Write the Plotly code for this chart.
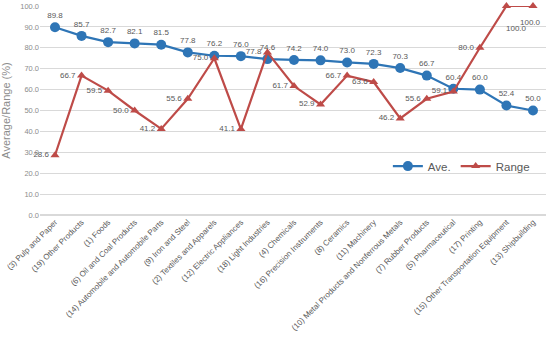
import plotly.graph_objects as go

categories = [
    "(3) Pulp and Paper", "(19) Other Products", "(1) Foods", "(6) Oil and Coal Products",
    "(14) Automobile and Automobile Parts", "(9) Iron and Steel", "(2) Textiles and Apparels",
    "(12) Electric Appliances", "(18) Light Industries", "(4) Chemicals",
    "(16) Precision Instruments", "(8) Ceramics", "(11) Machinery",
    "(10) Metal Products and Nonferrous Metals", "(7) Rubber Products", "(5) Pharmaceutical",
    "(17) Printing", "(15) Other Transportation Equipment", "(13) Shipbuilding",
]
ave = [89.8, 85.7, 82.7, 82.1, 81.5, 77.8, 76.2, 76.0, 74.6, 74.2, 74.0, 73.0, 72.3, 70.3,
       66.7, 60.4, 60.0, 52.4, 50.0]
rng = [28.6, 66.7, 59.5, 50.0, 41.2, 55.6, 75.0, 41.1, 77.8, 61.7, 52.9, 66.7, 63.6, 46.2,
       55.6, 59.1, 80.0, 100.0, 100.0]
y_ticks = [0, 10, 20, 30, 40, 50, 60, 70, 80, 90, 100]

BLUE = "#2E75B6"
RED = "#BE4B48"
GRAY = "#595959"
FONT = "Arial, Liberation Sans"

n = len(categories)
# last two Range labels are drawn as annotations below their markers
rng_text = [f"{v:.1f}" for v in rng[:-2]] + ["", ""]

fig = go.Figure()
fig.add_trace(go.Scatter(
    x=categories, y=ave, name="Ave.", mode="lines+markers+text",
    line=dict(color=BLUE, width=2.2),
    marker=dict(symbol="circle", size=10, color=BLUE),
    text=[f"{v:.1f}" for v in ave], textposition="top center",
    textfont=dict(size=8, color=GRAY, family=FONT),
    cliponaxis=False,
))
fig.add_trace(go.Scatter(
    x=categories, y=rng, name="Range", mode="lines+markers+text",
    line=dict(color=RED, width=2.2),
    marker=dict(symbol="triangle-up", size=8, color=RED),
    text=rng_text, textposition="middle left",
    textfont=dict(size=8, color=GRAY, family=FONT),
    cliponaxis=False,
))

for idx, (dx, dy) in zip([n - 2, n - 1], [(10, -22), (-2, -16)]):
    fig.add_annotation(
        x=categories[idx], y=rng[idx], text=f"{rng[idx]:.1f}", showarrow=False,
        xshift=dx, yshift=dy, font=dict(size=8, color=GRAY, family=FONT),
    )

fig.update_layout(
    width=550, height=343,
    margin=dict(l=40, r=4, t=6, b=128, autoexpand=False),
    paper_bgcolor="white", plot_bgcolor="white",
    font=dict(family=FONT, color=GRAY, size=8),
    showlegend=True,
    legend=dict(orientation="h", x=0.978, y=0.234, xanchor="right", yanchor="middle",
                font=dict(size=11.5, color=GRAY), bgcolor="rgba(0,0,0,0)",
                itemwidth=30, tracegroupgap=0),
    xaxis=dict(
        type="category", tickangle=-45, showgrid=False, showline=False,
        range=[-0.565, 18.49],
        tickfont=dict(size=8, color=GRAY), ticks="", automargin=False,
    ),
    yaxis=dict(
        range=[0, 100], tickvals=y_ticks, ticktext=[f"{v:.1f}" for v in y_ticks],
        showgrid=True, gridcolor="#D9D9D9", gridwidth=1, zeroline=True,
        zerolinecolor="#D9D9D9", showline=False, ticks="",
        tickfont=dict(size=7.5, color="#8C8C8C"), ticklabeloverflow="allow",
        title=dict(text="Average/Range (%)", font=dict(size=11, color="#8C8C8C"), standoff=8),
        automargin=False,
    ),
)

fig.write_html("out.html", config={"displayModeBar": False},
               post_script="document.body.style.margin='0';")
